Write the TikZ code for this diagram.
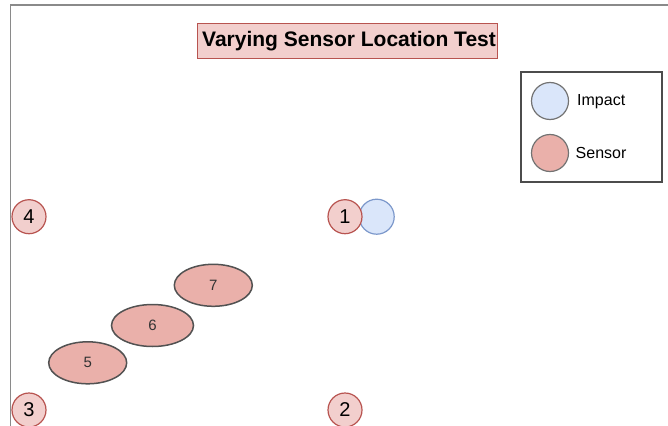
\documentclass[tikz,border=0pt]{standalone}
\usepackage{fontspec}
\setmainfont{Liberation Sans}
\usetikzlibrary{shapes.geometric}
\definecolor{sensfill}{HTML}{F2CFCD}
\definecolor{sensdraw}{HTML}{B85450}
\definecolor{ellfill}{HTML}{EAB0AA}
\definecolor{impfill}{HTML}{DAE6FA}
\definecolor{impdraw}{HTML}{7C98CB}
\definecolor{frame}{HTML}{8A8A8A}
\begin{document}
\begin{tikzpicture}[x=1pt,y=-1pt,
  corner/.style={circle,draw=sensdraw,fill=sensfill,line width=1.2pt,minimum size=34pt,inner sep=0pt,font=\fontsize{20}{20}\selectfont},
  impact/.style={circle,draw=impdraw,fill=impfill,line width=1.2pt,minimum size=35pt,inner sep=0pt},
  sens/.style={ellipse,draw=black!68,fill=ellfill,line width=1.5pt,minimum width=78pt,minimum height=42pt,inner sep=0pt,font=\fontsize{15}{15}\selectfont,text=black!80},
  legimp/.style={circle,draw=black!55,fill=impfill,line width=1.2pt,minimum size=37pt,inner sep=0pt},
  legsen/.style={circle,draw=black!55,fill=ellfill,line width=1.2pt,minimum size=37pt,inner sep=0pt},
  legtext/.style={anchor=west,font=\fontsize{16}{16}\selectfont},
  titlebox/.style={draw=sensdraw,fill=sensfill,line width=0.8pt,minimum width=300pt,minimum height=35pt,inner sep=0pt}
]
\useasboundingbox (0,0) rectangle (668,425);
\fill[white] (0,0) rectangle (668,425);
% frame
\draw[frame,line width=1.6pt] (10.5,430) -- (10.5,5) -- (675,5);
% title
\node[titlebox] (title) at (347,41) {};
\node[font=\bfseries\fontsize{21}{21}\selectfont,inner sep=0pt] (titletext) at (349,41.5) {Varying Sensor Location Test};
% legend
\node[draw=black!70,line width=1.2pt,minimum width=141pt,minimum height=110pt,inner sep=0pt] (legend) at (591.5,127) {};
\node[legimp] (li) at (550,101) {};
\node[legtext,inner sep=0pt] (lit) at (577,102) {Impact};
\node[legsen] (ls) at (550,153) {};
\node[legtext,inner sep=0pt] (lst) at (575.5,153) {Sensor};
% corner sensors
\node[corner] (s4) at (29,216.7) {4};
\node[impact] (imp) at (376.7,216.7) {};
\node[corner] (s1) at (345,216.7) {1};
\node[corner] (s3) at (29,410) {3};
\node[corner] (s2) at (345,410) {2};
% ellipse sensors
\node[sens] (s7) at (213.3,285.3) {7};
\node[sens,minimum width=82pt] (s6) at (152.5,325.5) {6};
\node[sens] (s5) at (87.7,362.8) {5};
\end{tikzpicture}
\end{document}
